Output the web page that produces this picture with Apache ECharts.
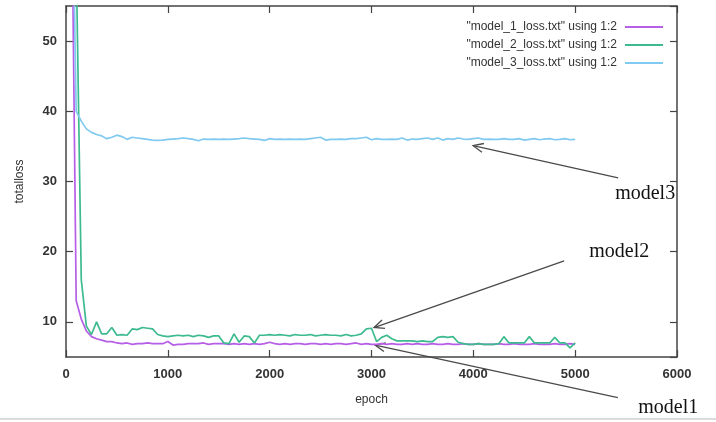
<!DOCTYPE html>
<html>
<head>
<meta charset="utf-8">
<script src="https://cdn.jsdelivr.net/npm/echarts@6/dist/echarts.min.js"></script>
<style>
  html, body { margin: 0; padding: 0; background: #fff; }
  #chart { width: 716px; height: 422px; }
</style>
</head>
<body>
<div id="chart"></div>
<script>
// epochs sampled every 50
const epochs = [
  0, 50, 100, 150, 200, 250, 300, 350, 400, 450, 500, 550, 600, 650, 700, 750, 800, 850, 900, 950,
  1000, 1050, 1100, 1150, 1200, 1250, 1300, 1350, 1400, 1450, 1500, 1550, 1600, 1650, 1700, 1750, 1800, 1850, 1900, 1950,
  2000, 2050, 2100, 2150, 2200, 2250, 2300, 2350, 2400, 2450, 2500, 2550, 2600, 2650, 2700, 2750, 2800, 2850, 2900, 2950,
  3000, 3050, 3100, 3150, 3200, 3250, 3300, 3350, 3400, 3450, 3500, 3550, 3600, 3650, 3700, 3750, 3800, 3850, 3900, 3950,
  4000, 4050, 4100, 4150, 4200, 4250, 4300, 4350, 4400, 4450, 4500, 4550, 4600, 4650, 4700, 4750, 4800, 4850, 4900, 4950,
  5000
]

const model1Loss = [
  160, 80, 13, 10.4, 8.7, 7.9, 7.6, 7.4, 7.2, 7.2, 7.0, 6.9, 7.0, 6.8, 6.9, 6.9, 7.0, 6.9, 6.9, 6.9,
  7.2, 6.7, 6.8, 6.8, 6.9, 6.9, 6.9, 7.0, 6.8, 6.9, 6.9, 6.9, 6.8, 6.9, 6.8, 6.9, 6.8, 6.9, 6.8, 6.9,
  7.1, 6.9, 6.8, 6.9, 6.8, 6.9, 6.9, 6.8, 6.9, 6.9, 6.8, 6.9, 6.8, 6.9, 6.9, 6.8, 6.9, 7.0, 6.8, 6.9,
  6.8, 6.8, 6.9, 6.8, 6.9, 6.8, 6.8, 6.9, 6.8, 6.9, 6.8, 6.8, 6.9, 6.8, 6.8, 6.9, 6.8, 6.8, 6.9, 6.8,
  6.8, 6.9, 6.8, 6.8, 6.8, 6.9, 6.8, 6.8, 6.9, 6.8, 6.8, 6.8, 6.9, 6.8, 6.8, 6.8, 6.9, 6.8, 6.8, 6.9,
  6.8
]

const model2Loss = [
  200, 130, 62, 16, 9.4, 8.2, 10.0, 8.3, 8.3, 9.2, 8.1, 8.2, 8.1, 9.0, 8.9, 9.2, 9.1, 9.0, 8.2, 8.0,
  7.9, 8.0, 8.1, 8.0, 8.1, 7.9, 8.1, 8.0, 7.8, 8.0, 8.0, 7.0, 6.9, 8.3, 7.1, 8.0, 7.9, 7.0, 8.1, 8.1,
  8.2, 8.1, 8.2, 8.1, 8.0, 8.2, 8.1, 8.1, 8.2, 8.0, 8.1, 8.2, 8.1, 8.1, 8.0, 8.2, 8.0, 8.1, 8.3, 9.0,
  9.1, 7.2, 7.8, 8.1, 7.6, 7.3, 7.3, 7.3, 7.3, 7.2, 7.3, 7.2, 7.2, 7.8, 7.9, 7.8, 7.9, 7.1, 6.9, 6.8,
  6.8, 6.9, 6.8, 6.8, 6.8, 6.9, 7.9, 7.0, 7.0, 7.0, 7.0, 7.9, 7.0, 7.0, 7.0, 7.0, 7.8, 7.0, 7.0, 6.3,
  7.0
]

const model3Loss = [
  180, 85, 40, 38.6, 37.5, 37.0, 36.7, 36.5, 36.1, 36.3, 36.6, 36.4, 36.0, 36.3, 36.2, 36.1, 36.0, 35.9, 35.85, 35.9,
  36.0, 36.05, 36.1, 36.2, 36.1, 36.0, 35.8, 36.05, 36.0, 36.05, 36.0, 36.05, 36.0, 36.05, 36.1, 36.2, 36.1, 36.05, 36.0, 35.85,
  36.1, 36.0, 36.05, 36.0, 36.05, 36.0, 36.05, 36.0, 36.1, 36.2, 36.3, 35.9, 36.0, 36.0, 36.05, 36.0, 36.1, 36.1, 36.2, 36.3,
  35.95, 36.1, 36.0, 36.0, 36.05, 36.0, 36.2, 35.9, 36.05, 36.0, 36.1, 36.2, 36.0, 36.2, 35.9, 36.1, 36.0, 36.2, 36.05, 36.0,
  36.1, 36.2, 36.0, 36.05, 36.0, 36.0, 36.1, 36.0, 36.0, 36.1, 35.9, 36.0, 36.1, 35.95, 36.05, 36.1, 35.95, 36.0, 36.1, 35.95,
  36.0
]

const seriesNames = [
  '"model_1_loss.txt" using 1:2',
  '"model_2_loss.txt" using 1:2',
  '"model_3_loss.txt" using 1:2'
]
const seriesColors = ['#b65ee6', '#3dba8e', '#80c9f0']

const yTicks = [10, 20, 30, 40, 50]

// arrows + labels, in data coordinates
const annotations = [
  { text: 'model3', at: [5393, 28.2], from: [5422, 30.5], to: [3998, 35.1] },
  { text: 'model2', at: [5138, 20.0], from: [4892, 18.7], to: [3025, 9.2] },
  { text: 'model1', at: [5619, -2.3], from: [5419, -0.8], to: [3035, 6.7] }
]

const axisColor = '#444'
const fontFamily = 'Liberation Sans, Arial, sans-serif'
const labelFont = { color: '#333', fontSize: 13, fontWeight: 'bold', fontFamily }

const chart = echarts.init(document.getElementById('chart'))

const pairs = (ys) => epochs.map((e, i) => [e, ys[i]])

// gnuplot box: border on four sides, ticks pointing inward
const axisCommon = {
  axisLine: { show: true, onZero: false, lineStyle: { color: axisColor, width: 1.5 } },
  axisTick: { show: true, inside: true, length: 7, lineStyle: { color: axisColor, width: 1.2 } },
  axisLabel: { show: false },
  splitLine: { show: false }
}
const xAxisBase = (pos, extra) => Object.assign({
  type: 'value', min: 0, max: 6000, interval: 1000, position: pos
}, axisCommon, extra)
// 5..55 with nice step 10 -> ticks 10..50, end ticks lie on the border
const yAxisBase = (pos, extra) => Object.assign({
  type: 'value', min: 5, max: 55, splitNumber: 5, position: pos
}, axisCommon, extra)

const option = {
  animation: false,
  backgroundColor: '#fff',
  grid: { left: 66, right: 39, top: 6, bottom: 65 },
  legend: {
    orient: 'vertical',
    right: 48,
    top: 15,
    align: 'right',
    icon: 'rect',
    itemWidth: 38,
    itemHeight: 2,
    itemGap: 4,
    data: seriesNames,
    textStyle: { color: '#333', fontSize: 12, lineHeight: 14, fontFamily, padding: [0, 3, 0, 0] }
  },
  xAxis: [
    xAxisBase('bottom', {
      name: 'epoch', nameLocation: 'middle', nameGap: 37,
      nameTextStyle: { color: '#333', fontSize: 12, fontFamily },
      axisLabel: Object.assign({ show: true, margin: 11, formatter: (v) => String(v) }, labelFont)
    }),
    xAxisBase('top')
  ],
  yAxis: [
    yAxisBase('left', {
      name: 'totalloss', nameLocation: 'middle', nameGap: 40,
      nameTextStyle: { color: '#333', fontSize: 12, fontFamily },
      axisLabel: Object.assign({
        show: true, margin: 9, showMinLabel: false, showMaxLabel: false,
        formatter: (v) => (yTicks.includes(v) ? String(v) : '')
      }, labelFont)
    }),
    yAxisBase('right')
  ],
  series: [model1Loss, model2Loss, model3Loss].map((ys, i) => ({
    name: seriesNames[i],
    type: 'line',
    xAxisIndex: 0,
    yAxisIndex: 0,
    data: pairs(ys),
    showSymbol: false,
    clip: true,
    color: seriesColors[i],
    lineStyle: { width: 1.7, color: seriesColors[i] }
  })),
  graphic: []
}

chart.setOption(option)

const toPx = (p) => chart.convertToPixel({ gridIndex: 0 }, p)
const graphics = [
  { type: 'rect', shape: { x: 0, y: 418, width: 716, height: 2 }, style: { fill: '#dcdcdc' }, silent: true }
]

// annotation arrows from data coords
annotations.forEach((a) => {
  const p0 = toPx(a.from)
  const p1 = toPx(a.to)
  const ang = Math.atan2(p0[1] - p1[1], p0[0] - p1[0])
  const len = 11
  const spread = 0.42
  const h1 = [p1[0] + len * Math.cos(ang + spread), p1[1] + len * Math.sin(ang + spread)]
  const h2 = [p1[0] + len * Math.cos(ang - spread), p1[1] + len * Math.sin(ang - spread)]
  graphics.push({ type: 'line', shape: { x1: p0[0], y1: p0[1], x2: p1[0], y2: p1[1] }, style: { stroke: '#4a4a4a', lineWidth: 1.3 }, silent: true })
  graphics.push({ type: 'polyline', shape: { points: [h1, p1, h2] }, style: { stroke: '#4a4a4a', lineWidth: 1.3, fill: null }, silent: true })
  const t = toPx(a.at)
  graphics.push({
    type: 'text', x: t[0], y: t[1], silent: true,
    style: { text: a.text, fill: '#111', font: '20px "Liberation Serif", "Times New Roman", serif', verticalAlign: 'middle', align: 'left' }
  })
})
chart.setOption({ graphic: graphics })
</script>
</body>
</html>
